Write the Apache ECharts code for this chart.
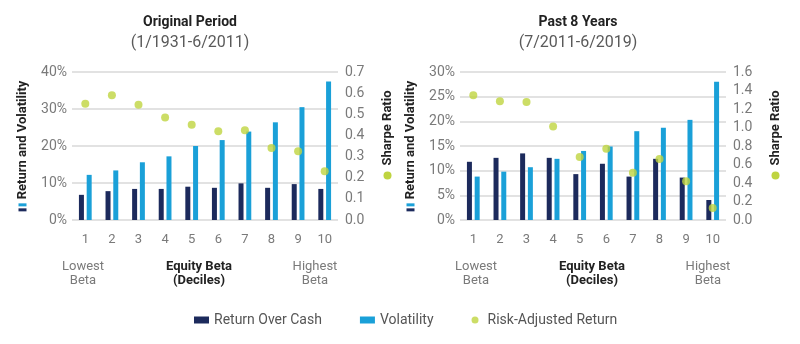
<!DOCTYPE html>
<html>
<head>
<meta charset="utf-8">
<script src="https://cdn.jsdelivr.net/npm/echarts@6/dist/echarts.min.js"></script>
<style>
html,body{margin:0;padding:0;background:#fff;}
#chart{width:800px;height:344px;}
</style>
</head>
<body>
<div id="chart"></div>
<script>
// ---- Data ----
var deciles = ['1','2','3','4','5','6','7','8','9','10'];

// Original Period (1/1931-6/2011)
var origReturn     = [6.8, 7.8, 8.4, 8.4, 9.0, 8.7, 9.9, 8.7, 9.7, 8.4];
var origVolatility = [12.2, 13.4, 15.6, 17.2, 20.0, 21.6, 23.9, 26.4, 30.5, 37.4];
var origSharpe     = [0.55, 0.59, 0.545, 0.485, 0.45, 0.42, 0.425, 0.34, 0.325, 0.23];

// Past 8 Years (7/2011-6/2019)
var recentReturn     = [11.8, 12.6, 13.5, 12.6, 9.3, 11.4, 8.8, 12.4, 8.6, 4.05];
var recentVolatility = [8.8, 9.8, 10.7, 12.4, 14.0, 14.9, 18.0, 18.7, 20.3, 28.0];
var recentSharpe     = [1.35, 1.285, 1.275, 1.01, 0.68, 0.77, 0.51, 0.66, 0.42, 0.13];

var panelTitles    = ['Original Period', 'Past 8 Years'];
var panelSubtitles = ['(1/1931-6/2011)', '(7/2011-6/2019)'];
var seriesNames = ['Return Over Cash', 'Volatility', 'Risk-Adjusted Return'];

// ---- Styles ----
var NAVY = '#1c2a5c', BLUE = '#1aa0d8', GREEN = '#bfd440';
var GRID = '#d9d9d9', LABEL = '#7a7a7a', FONT = 'Roboto';

var chart = echarts.init(document.getElementById('chart'), null, {renderer: 'canvas'});

function leftName() {
  return {
    name: '{d| }{g| }{l| }{g2| }{t|Return and Volatility}',
    nameLocation: 'middle', nameGap: 43, nameRotate: 90,
    nameTextStyle: {
      rich: {
        d: {backgroundColor: NAVY, width: 3, height: 8},
        g: {width: 2, height: 8},
        l: {backgroundColor: BLUE, width: 3, height: 8},
        g2: {width: 4, height: 8},
        t: {fontFamily: FONT, fontSize: 13, fontWeight: 'bold', color: '#222'}
      }
    }
  };
}
function rightName() {
  return {
    name: '{d| }{g| }{t|Sharpe Ratio}',
    nameLocation: 'middle', nameGap: 43, nameRotate: 90,
    nameTextStyle: {
      padding: [0, 0, 0, 22],
      rich: {
        d: {backgroundColor: GREEN, width: 8, height: 8, borderRadius: 4},
        g: {width: 6, height: 8},
        t: {fontFamily: FONT, fontSize: 13, fontWeight: 'bold', color: '#222'}
      }
    }
  };
}

function yLeft(grid, max, interval) {
  return Object.assign({
    type: 'value', gridIndex: grid, min: 0, max: max, interval: interval,
    axisLine: {show: false}, axisTick: {show: false},
    axisLabel: {formatter: '{value}%', color: LABEL, fontFamily: FONT, fontSize: 14, margin: 5},
    splitLine: {lineStyle: {color: GRID, width: 1.5}}
  }, leftName());
}
function yRight(grid, max, interval) {
  return Object.assign({
    type: 'value', gridIndex: grid, position: 'right', min: 0, max: max, interval: interval,
    axisLine: {show: false}, axisTick: {show: false},
    axisLabel: {formatter: function (v) { return v.toFixed(1); }, color: LABEL, fontFamily: FONT, fontSize: 14, margin: 7},
    splitLine: {show: false}
  }, rightName());
}
function xAxis(grid) {
  return {
    type: 'category', gridIndex: grid, data: deciles,
    axisLine: {show: false}, axisTick: {show: false},
    axisLabel: {color: LABEL, fontFamily: FONT, fontSize: 13, margin: 13}
  };
}
function bars(name, data, color, xi, yi) {
  return {
    name: name, type: 'bar', xAxisIndex: xi, yAxisIndex: yi, data: data,
    barWidth: 5, barGap: '55%', itemStyle: {color: color}, silent: true
  };
}
function dots(name, data, xi, yi) {
  return {
    name: name, type: 'scatter', xAxisIndex: xi, yAxisIndex: yi, data: data,
    symbol: 'circle', symbolSize: 8, itemStyle: {color: GREEN}, z: 5, silent: true
  };
}
function footText(x, lines, bold) {
  return {
    type: 'text', x: x, y: 274,
    style: {
      text: lines, align: 'center', verticalAlign: 'middle', lineHeight: 14,
      fontFamily: FONT, fontSize: 13, fontWeight: bold ? 'bold' : 'normal',
      fill: bold ? '#222' : LABEL
    }
  };
}

var option = {
  animation: false,
  title: [
    {text: panelTitles[0], subtext: panelSubtitles[0], left: 190, top: 15, textAlign: 'center', padding: 0, itemGap: 6,
     textStyle: {fontFamily: FONT, fontSize: 14, fontWeight: 'bold', color: '#222'},
     subtextStyle: {fontFamily: FONT, fontSize: 16, color: '#5a5a5a'}},
    {text: panelTitles[1], subtext: panelSubtitles[1], left: 578, top: 15, textAlign: 'center', padding: 0, itemGap: 6,
     textStyle: {fontFamily: FONT, fontSize: 14, fontWeight: 'bold', color: '#222'},
     subtextStyle: {fontFamily: FONT, fontSize: 16, color: '#5a5a5a'}}
  ],
  legend: {
    left: 194, top: 313, itemWidth: 15, itemHeight: 7, itemGap: 38, padding: 0,
    selectedMode: false,
    textStyle: {fontFamily: FONT, fontSize: 14, color: '#555'},
    data: [
      {name: seriesNames[0], icon: 'rect'},
      {name: seriesNames[1], icon: 'rect'},
      {name: seriesNames[2], icon: 'circle'}
    ]
  },
  grid: [
    {left: 72, width: 266, top: 72, height: 148},
    {left: 460, width: 266, top: 72, height: 148}
  ],
  xAxis: [xAxis(0), xAxis(1)],
  yAxis: [yLeft(0, 40, 10), yRight(0, 0.7, 0.1), yLeft(1, 30, 5), yRight(1, 1.6, 0.2)],
  series: [
    bars(seriesNames[0], origReturn, NAVY, 0, 0),
    bars(seriesNames[1], origVolatility, BLUE, 0, 0),
    dots(seriesNames[2], origSharpe, 0, 1),
    bars(seriesNames[0], recentReturn, NAVY, 1, 2),
    bars(seriesNames[1], recentVolatility, BLUE, 1, 2),
    dots(seriesNames[2], recentSharpe, 1, 3)
  ],
  graphic: [
    footText(83, 'Lowest\nBeta', false),
    footText(199, 'Equity Beta\n(Deciles)', true),
    footText(315, 'Highest\nBeta', false),
    footText(476, 'Lowest\nBeta', false),
    footText(592, 'Equity Beta\n(Deciles)', true),
    footText(708, 'Highest\nBeta', false)
  ]
};
chart.setOption(option);
</script>
</body>
</html>
